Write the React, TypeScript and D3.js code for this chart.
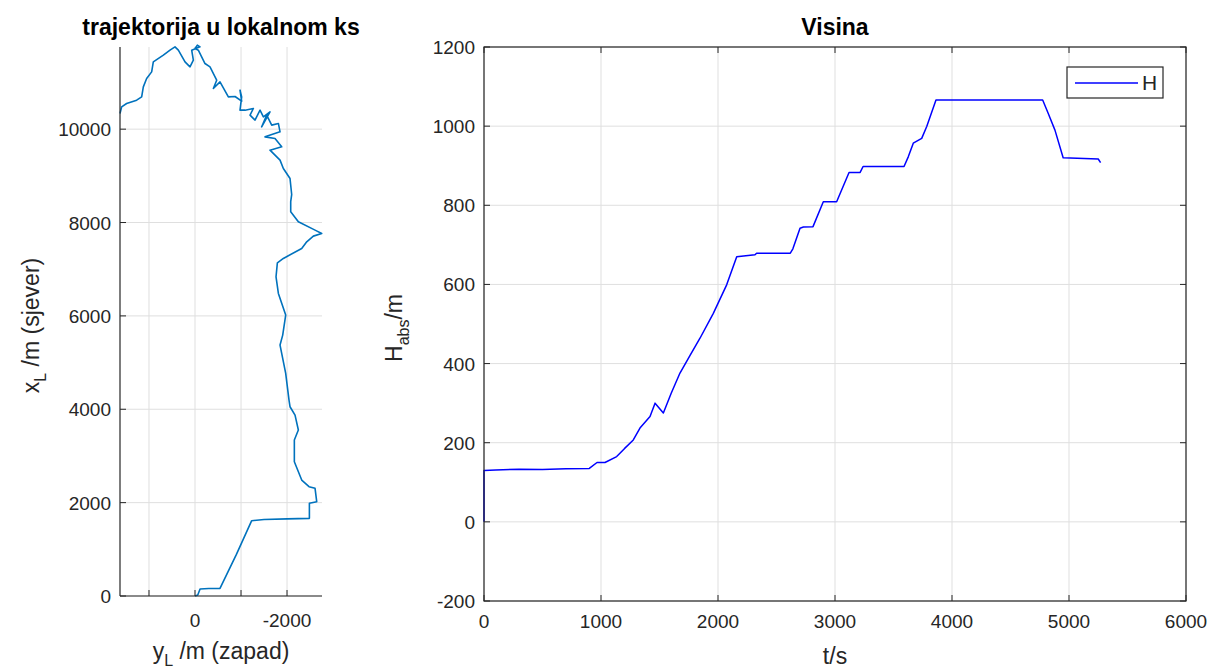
import React from 'react';
import * as d3 from 'd3';

// trajectory in local frame: y_L (west, m) and x_L (north, m)
const trajWest = [
  0, -60, -110, -300, -543, -900, -1232, -1500, -2000, -2486, -2486, -2645, -2609, -2478, -2319,
  -2159, -2159, -2246, -2174, -2065, -2043, -1971, -1848, -1906, -1971, -1812, -1761, -1790, -1920,
  -2319, -2428, -2572, -2754, -2609, -2246, -2080, -2080, -2101, -2065, -1920, -1848, -1630, -1884,
  -1739, -1522, -1848, -1812, -1667, -1558, -1449, -1630, -1486, -1413, -1304, -1196, -1268, -1087,
  -978, -1014, -978, -1014, -870, -725, -543, -399, -471, -326, -217, -72, 0, -51, -109, 72, 36, 109,
  217, 362, 435, 543, 688, 906, 942, 1051, 1123, 1159, 1268, 1486, 1594, 1630,
];
const trajNorth = [
  0, 20, 150, 160, 164, 890, 1613, 1640, 1652, 1663, 1985, 2020, 2306, 2341, 2484,
  2876, 3340, 3555, 3876, 4054, 4197, 4769, 5375, 5589, 6017, 6482, 6838, 7137, 7231,
  7445, 7587, 7709, 7767, 7837, 8015, 8229, 8450, 8600, 8944, 9158, 9336, 9550, 9622,
  9800, 9835, 9943, 10122, 10086, 10300, 10050, 10370, 10264, 10407, 10193, 10300, 10443, 10407,
  10407, 10692, 10835, 10600, 10700, 10692, 11013, 10871, 11049, 11334, 11406, 11692, 11728, 11799, 11763, 11692, 11478, 11334,
  11441, 11692, 11763, 11692, 11585, 11441, 11227, 11085, 10906, 10692, 10621, 10550, 10478, 10336,
];

// altitude over time
const timeS = [
  0, 0, 100, 300, 500, 700, 900, 966, 1034, 1134, 1200, 1276, 1333, 1419, 1462, 1533, 1600, 1675,
  1760, 1846, 1960, 2074, 2160, 2316, 2330, 2618, 2640, 2701, 2730, 2812, 2900, 3014, 3120, 3215,
  3240, 3590, 3627, 3669, 3741, 3784, 3863, 4775, 4821, 4880, 4950, 5250, 5270,
];
const heightH = [
  0, 130, 131, 133, 132, 134, 135, 150, 150, 165, 185, 207, 237, 266, 300, 275, 325, 376,
  420, 464, 527, 599, 670, 675, 679, 679, 690, 742, 745, 746, 809, 809, 883, 883,
  898, 898, 923, 957, 969, 999, 1066, 1066, 1033, 990, 920, 917, 908,
];

const leftXTicks = [1000, 0, -1000, -2000];
const leftXTickLabels = ['', '0', '', '-2000'];
const leftYTicks = [0, 2000, 4000, 6000, 8000, 10000];
const rightXTicks = [0, 1000, 2000, 3000, 4000, 5000, 6000];
const rightYTicks = [-200, 0, 200, 400, 600, 800, 1000, 1200];

const FONT = 'Liberation Sans, Arial, Helvetica, sans-serif';
const AXIS = '#262626';
const GRID = '#dfdfdf';
const TICK = 6;
const TICK_FS = 19;
const LABEL_FS = 23;
const TITLE_FS = 23;

const App: React.FC = () => {
  // left panel scales (x axis reversed: west positive to the left)
  const lx = d3.scaleLinear().domain([1630, -2760]).range([120, 322]);
  const ly = d3.scaleLinear().domain([0, 11760]).range([596, 47]);
  // right panel scales
  const rx = d3.scaleLinear().domain([0, 6000]).range([484, 1186]);
  const ry = d3.scaleLinear().domain([-200, 1200]).range([601, 47]);

  const traj = trajWest.map((w, i) => [w, trajNorth[i]] as [number, number]);
  const trajLine = d3.line<[number, number]>().x(d => lx(d[0])).y(d => ly(d[1]));

  const alt = timeS.map((t, i) => [t, heightH[i]] as [number, number]);
  const altLine = d3.line<[number, number]>().x(d => rx(d[0])).y(d => ry(d[1]));

  const [lx0, lx1] = lx.range();
  const [ly0, ly1] = ly.range();
  const [rx0, rx1] = rx.range();
  const [ry0, ry1] = ry.range();

  return (
    <svg width={1210} height={668} style={{ position: 'fixed', left: 0, top: 0, background: '#fff' }}
      fontFamily={FONT}>
      {/* ---------- left panel ---------- */}
      <g>
        {leftXTicks.map(t => (
          <line key={'lgx' + t} x1={lx(t)} x2={lx(t)} y1={ly0} y2={ly1} stroke={GRID} />
        ))}
        {leftYTicks.map(t => (
          <line key={'lgy' + t} x1={lx0} x2={lx1} y1={ly(t)} y2={ly(t)} stroke={GRID} />
        ))}
        <path d={trajLine(traj) || ''} fill="none" stroke="#0072bd" strokeWidth={1.6} strokeLinejoin="round" />
        <line x1={lx0} x2={lx0} y1={ly0} y2={ly1} stroke={AXIS} strokeWidth={1.2} />
        <line x1={lx0} x2={lx1} y1={ly0} y2={ly0} stroke={AXIS} strokeWidth={1.2} />
        {leftXTicks.map((t, i) => (
          <g key={'lxt' + t}>
            <line x1={lx(t)} x2={lx(t)} y1={ly0} y2={ly0 - TICK} stroke={AXIS} />
            <text x={lx(t)} y={ly0 + 31} textAnchor="middle" fontSize={TICK_FS} fill={AXIS}>{leftXTickLabels[i]}</text>
          </g>
        ))}
        {leftYTicks.map(t => (
          <g key={'lyt' + t}>
            <line x1={lx0} x2={lx0 + TICK} y1={ly(t)} y2={ly(t)} stroke={AXIS} />
            <text x={lx0 - 9} y={ly(t) + 7} textAnchor="end" fontSize={TICK_FS} fill={AXIS}>{t}</text>
          </g>
        ))}
        <text x={(lx0 + lx1) / 2} y={35} textAnchor="middle" fontSize={TITLE_FS} fontWeight="bold" fill="#000">
          trajektorija u lokalnom ks
        </text>
        <text x={(lx0 + lx1) / 2} y={659} textAnchor="middle" fontSize={LABEL_FS} fill={AXIS}>
          y<tspan dy={7} fontSize={16}>L</tspan><tspan dy={-7}>{'  /m (zapad)'}</tspan>
        </text>
        <text transform={`translate(39,${(ly0 + ly1) / 2 + 4}) rotate(-90)`} textAnchor="middle" fontSize={LABEL_FS} fill={AXIS}>
          x<tspan dy={7} fontSize={16}>L</tspan><tspan dy={-7}>{' /m (sjever)'}</tspan>
        </text>
      </g>

      {/* ---------- right panel ---------- */}
      <g>
        {rightXTicks.map(t => (
          <line key={'rgx' + t} x1={rx(t)} x2={rx(t)} y1={ry0} y2={ry1} stroke={GRID} />
        ))}
        {rightYTicks.map(t => (
          <line key={'rgy' + t} x1={rx0} x2={rx1} y1={ry(t)} y2={ry(t)} stroke={GRID} />
        ))}
        <path d={altLine(alt) || ''} fill="none" stroke="#0000ff" strokeWidth={1.5} strokeLinejoin="round" />
        <rect x={rx0} y={ry1} width={rx1 - rx0} height={ry0 - ry1} fill="none" stroke={AXIS} strokeWidth={1.2} />
        {rightXTicks.map(t => (
          <g key={'rxt' + t}>
            <line x1={rx(t)} x2={rx(t)} y1={ry0} y2={ry0 - TICK} stroke={AXIS} />
            <line x1={rx(t)} x2={rx(t)} y1={ry1} y2={ry1 + TICK} stroke={AXIS} />
            <text x={rx(t)} y={ry0 + 27} textAnchor="middle" fontSize={TICK_FS} fill={AXIS}>{t}</text>
          </g>
        ))}
        {rightYTicks.map(t => (
          <g key={'ryt' + t}>
            <line x1={rx0} x2={rx0 + TICK} y1={ry(t)} y2={ry(t)} stroke={AXIS} />
            <line x1={rx1} x2={rx1 - TICK} y1={ry(t)} y2={ry(t)} stroke={AXIS} />
            <text x={rx0 - 9} y={ry(t) + 7} textAnchor="end" fontSize={TICK_FS} fill={AXIS}>{t}</text>
          </g>
        ))}
        <text x={(rx0 + rx1) / 2} y={35} textAnchor="middle" fontSize={TITLE_FS} fontWeight="bold" fill="#000">Visina</text>
        <text x={(rx0 + rx1) / 2} y={664} textAnchor="middle" fontSize={LABEL_FS} fill={AXIS}>t/s</text>
        <text transform={`translate(402,${(ry0 + ry1) / 2 + 4}) rotate(-90)`} textAnchor="middle" fontSize={LABEL_FS} fill={AXIS}>
          H<tspan dy={7} fontSize={16}>abs</tspan><tspan dy={-7}>/m</tspan>
        </text>
        {/* legend */}
        <g transform="translate(1067,67)">
          <rect width={96} height={31} fill="#fff" stroke={AXIS} strokeWidth={1.2} />
          <line x1={8} x2={71} y1={16} y2={16} stroke="#0000ff" strokeWidth={1.5} />
          <text x={75} y={23} fontSize={21} fill={AXIS}>H</text>
        </g>
      </g>
    </svg>
  );
};

export default App;
